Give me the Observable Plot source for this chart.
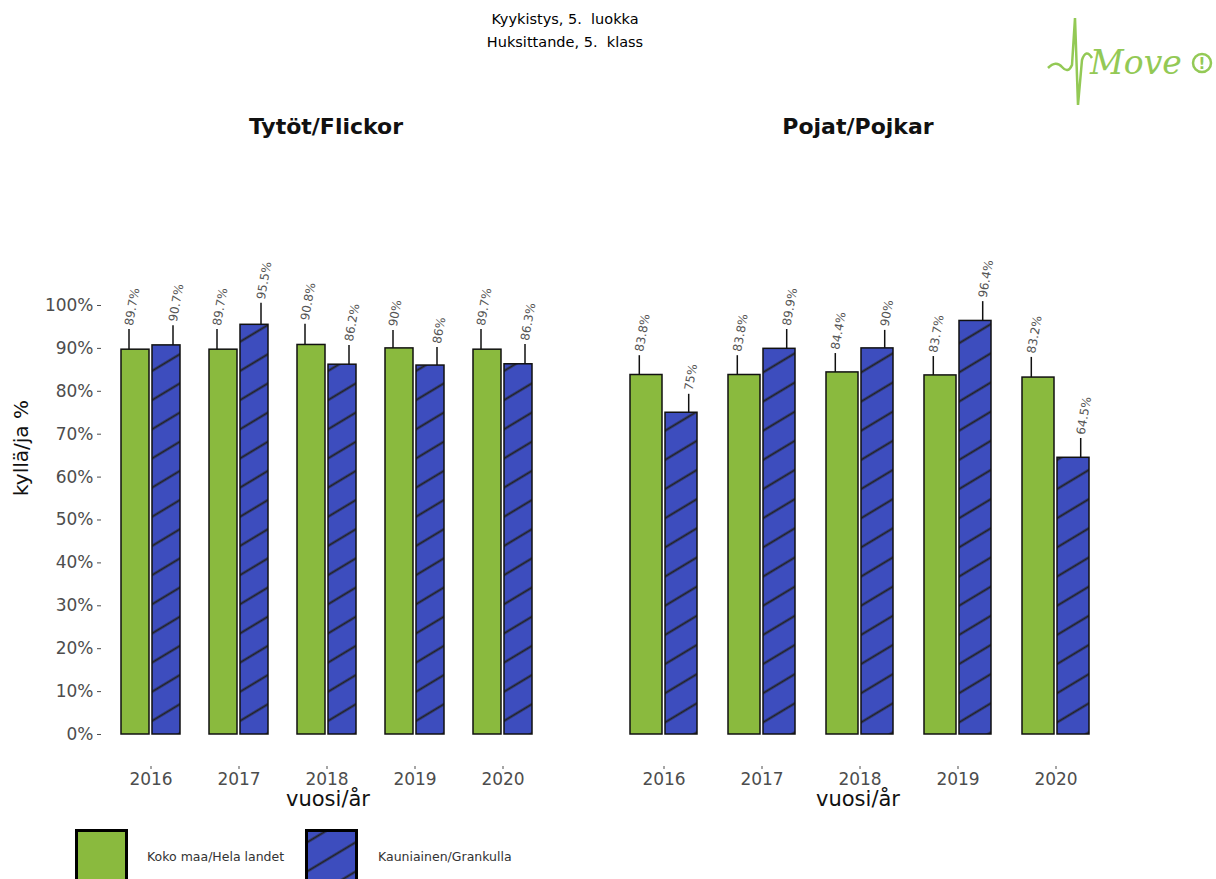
<!DOCTYPE html>
<html><head><meta charset="utf-8">
<script src="https://cdn.jsdelivr.net/npm/d3@7"></script>
<script src="https://cdn.jsdelivr.net/npm/@observablehq/plot@0.6"></script>
<style>
body{margin:0;background:#fff;}
#page{position:relative;width:1216px;height:879px;overflow:hidden;font-family:"DejaVu Sans",sans-serif;background:#fff;}
.abs{position:absolute;}
.plotbox{position:absolute;top:0;}
.txt{position:absolute;white-space:nowrap;z-index:5;}
</style></head><body>
<div id="page">
<svg width="0" height="0" style="position:absolute">
  <defs>
    <pattern id="hatch" patternUnits="userSpaceOnUse" width="12" height="25" patternTransform="rotate(-31)">
      <rect width="12" height="25" fill="#3d4dbe"></rect>
      <line x1="0" y1="12.5" x2="12" y2="12.5" stroke="#222" stroke-width="2"></line>
    </pattern>
  </defs>
</svg>
<div id="left" class="plotbox" style="left:0;width:560px"></div>
<div id="right" class="plotbox" style="left:560px;width:656px"></div>

<div class="txt" style="left:365px;width:400px;top:8px;text-align:center;font-size:14.5px;line-height:23px;color:#000">Kyykistys, 5. &nbsp;luokka<br>Huksittande, 5. &nbsp;klass</div>

<svg class="abs" style="left:1040px;top:10px;z-index:5" width="176" height="100">
  <path d="M8,58 Q16,50 22,57 T32,55 L35,8 L38,95 L42,50 Q46,38 52,48" fill="none" stroke="#93c955" stroke-width="2.5"></path>
  <text x="50" y="64" font-family="DejaVu Serif" font-style="italic" font-size="33" fill="#93c955">Move</text>
  <circle cx="162" cy="53" r="9" fill="none" stroke="#93c955" stroke-width="2.5"></circle>
  <text x="162" y="59" text-anchor="middle" font-family="DejaVu Sans" font-weight="bold" font-size="15" fill="#93c955">!</text>
</svg>

<div class="txt" style="left:126px;width:400px;top:114px;text-align:center;font-size:22px;font-weight:bold;line-height:26px;color:#111">Tytöt/Flickor</div>
<div class="txt" style="left:658px;width:400px;top:114px;text-align:center;font-size:22px;font-weight:bold;line-height:26px;color:#111">Pojat/Pojkar</div>

<div class="txt" style="left:-79px;width:200px;top:436px;text-align:center;font-size:20px;line-height:24px;color:#111;transform:rotate(-90deg)">kyllä/ja %</div>

<div class="txt" style="left:128px;width:400px;top:787px;text-align:center;font-size:21px;line-height:24px;color:#111">vuosi/år</div>
<div class="txt" style="left:658px;width:400px;top:787px;text-align:center;font-size:21px;line-height:24px;color:#111">vuosi/år</div>

<svg class="abs" style="left:75px;top:829px;z-index:5" width="54" height="60"><rect x="1.5" y="1.5" width="50" height="60" fill="#8aba3e" stroke="#000" stroke-width="3"></rect></svg>
<div class="txt" style="left:147px;top:849px;font-size:12.5px;line-height:16px;color:#333">Koko maa/Hela landet</div>
<svg class="abs" style="left:305px;top:829px;z-index:5" width="54" height="60"><rect x="1.5" y="1.5" width="50" height="60" fill="url(#hatch)" stroke="#000" stroke-width="3"></rect></svg>
<div class="txt" style="left:378px;top:849px;font-size:12.5px;line-height:16px;color:#333">Kauniainen/Grankulla</div>
</div>
<script>
const years = ["2016", "2017", "2018", "2019", "2020"];
const series = ["Koko maa/Hela landet", "Kauniainen/Grankulla"];

const girlsCountry      = [89.7, 89.7, 90.8, 90, 89.7];
const girlsCountryUpper = [94.4, 94.4, 95.6, 94.2, 94.4];
const girlsLocal        = [90.7, 95.5, 86.2, 86, 86.3];
const girlsLocalUpper   = [95.3, 100.5, 90.7, 90.2, 90.9];

const boysCountry       = [83.8, 83.8, 84.4, 83.7, 83.2];
const boysCountryUpper  = [88.3, 88.3, 88.8, 88.1, 87.9];
const boysLocal         = [75, 89.9, 90, 96.4, 64.5];
const boysLocalUpper    = [79.3, 94.4, 94.2, 100.9, 69.0];

const yTicks = [0, 10, 20, 30, 40, 50, 60, 70, 80, 90, 100];

const green = "#8aba3e";
const fmt = v => `${v}%`;
const yMin = -7.46, yMax = 136.13;

function rowsFor(cv, cu, lv, lu) {
  return years.flatMap((year, i) => [
    {year, series: series[0], value: cv[i], upper: cu[i]},
    {year, series: series[1], value: lv[i], upper: lu[i]}
  ]);
}

function panel(rows, o) {
  const isCountry = d => d.series === series[0];
  const isLocal = d => d.series === series[1];
  const textOpts = {x: "series", y: "upper", text: d => fmt(d.value), rotate: -80, textAnchor: "start", dy: -4, fontSize: 12, fill: "#555"};
  const marks = [
    Plot.barY(rows, {filter: isCountry, x: "series", y: "value", fill: green, stroke: "#111", strokeWidth: 1.5}),
    Plot.barY(rows, {filter: isLocal, x: "series", y: "value", fill: "url(#hatch)", stroke: "#111", strokeWidth: 1.5}),
    Plot.ruleX(rows, {filter: isCountry, x: "series", y1: "value", y2: "upper", dx: -o.ruleDx, stroke: "#111", strokeWidth: 1.5}),
    Plot.ruleX(rows, {filter: isLocal, x: "series", y1: "value", y2: "upper", dx: o.ruleDx, stroke: "#111", strokeWidth: 1.5}),
    Plot.text(rows, {...textOpts, filter: isCountry, dx: -o.ruleDx}),
    Plot.text(rows, {...textOpts, filter: isLocal, dx: o.ruleDx})
  ];
  if (o.showY) marks.unshift(Plot.axisY(yTicks, {tickFormat: fmt, tickSize: 4, tickPadding: 4, dx: o.axisDx, label: null}));
  return Plot.plot({
    width: o.width, height: 879,
    marginTop: 150, marginBottom: 113, marginLeft: o.marginLeft, marginRight: o.marginRight,
    style: {background: "transparent", fontFamily: "DejaVu Sans, sans-serif", fontSize: "17px", color: "#4d4d4d"},
    facet: {data: rows, x: "year"},
    fx: {domain: years, axis: "bottom", label: null, paddingInner: o.paddingInner, paddingOuter: 0.19, tickSize: 3, tickPadding: 3},
    x: {domain: series, axis: null, paddingInner: 0.1, paddingOuter: 0},
    y: {domain: [yMin, yMax], label: null, axis: o.showY ? undefined : null},
    marks
  });
}

const girls = rowsFor(girlsCountry, girlsCountryUpper, girlsLocal, girlsLocalUpper);
const boys = rowsFor(boysCountry, boysCountryUpper, boysLocal, boysLocalUpper);

document.getElementById("left").append(panel(girls, {width: 560, marginLeft: 104, marginRight: 11.3, paddingInner: 0.33, showY: true, ruleDx: 6.5, axisDx: -20}));
document.getElementById("right").append(panel(boys, {width: 656, marginLeft: 49, marginRight: 107, paddingInner: 0.32, showY: false, ruleDx: 7.2}));
</script>
</body></html>
